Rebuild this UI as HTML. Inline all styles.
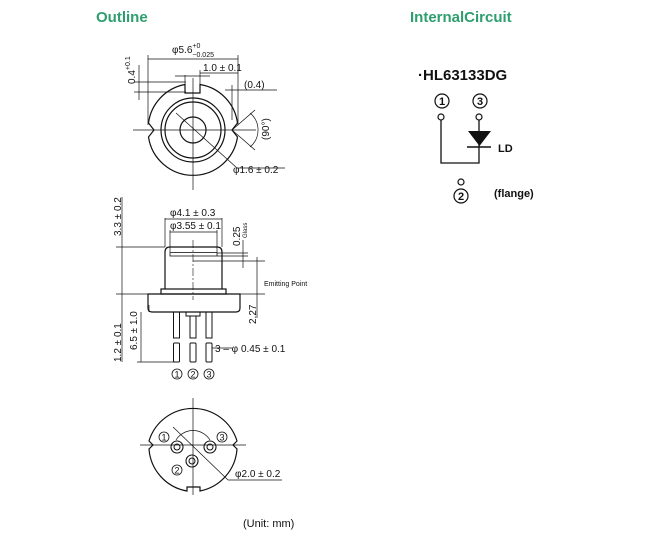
<!DOCTYPE html>
<html><head><style>
body{margin:0;background:#fff;width:669px;height:541px;overflow:hidden}
svg{display:block}
text{font-family:"Liberation Sans",Arial,sans-serif;fill:#111}
</style></head><body>
<svg width="669" height="541" viewBox="0 0 669 541" xmlns="http://www.w3.org/2000/svg">
<g font-weight="bold" font-size="15" style="fill:#2e9e6e">
<text x="96" y="22" style="fill:#2e9e6e">Outline</text>
<text x="410" y="22" style="fill:#2e9e6e">InternalCircuit</text>
</g>
<g stroke="#111" fill="none" stroke-width="1">
<!-- top view -->
<path d="M185,84.5 A45,45 0 0 0 148.5,123 L154,130 L148.5,137 A45,45 0 0 0 237.5,137 L232,130 L237.5,123 A45,45 0 0 0 200,84.5 L200,93 L185,93 Z" stroke-width="1.2"/>
<circle cx="193" cy="130" r="32" stroke-width="1.2"/>
<circle cx="193" cy="130" r="28" stroke-width="1.2"/>
<circle cx="193" cy="130" r="13" stroke-width="1.2"/>
<line x1="133" y1="130" x2="256" y2="130" stroke-width="0.7"/>
<line x1="193" y1="78" x2="193" y2="190" stroke-width="0.7"/>
<line x1="176" y1="113" x2="237" y2="168" stroke-width="0.7"/>
<line x1="237" y1="168" x2="285" y2="168" stroke-width="0.7"/>
<line x1="148" y1="55" x2="148" y2="125" stroke-width="0.7"/>
<line x1="238" y1="55" x2="238" y2="125" stroke-width="0.7"/>
<line x1="148" y1="59" x2="238" y2="59" stroke-width="0.7"/>
<line x1="200" y1="73" x2="238" y2="73" stroke-width="0.7"/>
<line x1="185" y1="75" x2="185" y2="86" stroke-width="0.7"/>
<line x1="200" y1="70" x2="200" y2="86" stroke-width="0.7"/>
<line x1="175" y1="76" x2="210" y2="76" stroke-width="0.7"/>
<line x1="134" y1="82" x2="186" y2="82" stroke-width="0.7"/>
<line x1="134" y1="92" x2="186" y2="92" stroke-width="0.7"/>
<line x1="139" y1="65" x2="139" y2="100" stroke-width="0.7"/>
<line x1="225" y1="90" x2="277" y2="90" stroke-width="0.7"/>
<line x1="232" y1="85" x2="232" y2="120" stroke-width="0.7"/>
<line x1="232" y1="130" x2="255" y2="110" stroke-width="0.7"/>
<line x1="232" y1="130" x2="255" y2="150" stroke-width="0.7"/>
<path d="M250,113 A22,22 0 0 1 250,147" stroke-width="0.7"/>
<!-- side view -->
<path d="M165,289 L165,252 Q165,247 170,247 L217,247 Q222,247 222,252 L222,289" stroke-width="1.2"/>
<rect x="170" y="252.5" width="47" height="3.5" stroke-width="0.8"/>
<rect x="161" y="289" width="65" height="5" stroke-width="1.2"/>
<path d="M148,294 L240,294 L240,308 Q240,312 236,312 L152,312 Q148,312 148,308 Z" stroke-width="1.2"/>
<rect x="173.5" y="312" width="6" height="26" stroke-width="1"/>
<rect x="190" y="316" width="6" height="22" stroke-width="1"/>
<rect x="186" y="312" width="14" height="4" stroke-width="1"/>
<rect x="206" y="312" width="6" height="26" stroke-width="1"/>
<rect x="173.5" y="343" width="6" height="19" rx="1" stroke-width="1"/>
<rect x="190" y="343" width="6" height="19" rx="1" stroke-width="1"/>
<rect x="206" y="343" width="6" height="19" rx="1" stroke-width="1"/>
<line x1="193" y1="240" x2="193" y2="300" stroke-width="0.6" stroke-dasharray="8,2,2,2"/>
<line x1="122" y1="197" x2="122" y2="362" stroke-width="0.7"/>
<line x1="116" y1="247" x2="165" y2="247" stroke-width="0.7"/>
<line x1="116" y1="294" x2="148" y2="294" stroke-width="0.7"/>
<line x1="141" y1="312" x2="141" y2="362" stroke-width="0.7"/>
<line x1="137" y1="362" x2="176" y2="362" stroke-width="0.7"/>
<line x1="149" y1="305" x2="149" y2="312" stroke-width="0.7"/>
<line x1="165" y1="218" x2="165" y2="247" stroke-width="0.7"/>
<line x1="222" y1="218" x2="222" y2="247" stroke-width="0.7"/>
<line x1="165" y1="219" x2="222" y2="219" stroke-width="0.7"/>
<line x1="170" y1="230" x2="170" y2="252" stroke-width="0.7"/>
<line x1="217" y1="230" x2="217" y2="252" stroke-width="0.7"/>
<line x1="170" y1="232" x2="217" y2="232" stroke-width="0.7"/>
<line x1="217" y1="253" x2="248" y2="253" stroke-width="0.7"/>
<line x1="217" y1="256" x2="248" y2="256" stroke-width="0.7"/>
<line x1="243" y1="240" x2="243" y2="268" stroke-width="0.7"/>
<line x1="193" y1="261" x2="265" y2="261" stroke-width="0.7"/>
<line x1="240" y1="294" x2="265" y2="294" stroke-width="0.7"/>
<line x1="257" y1="257" x2="257" y2="318" stroke-width="0.7"/>
<line x1="212" y1="348" x2="232" y2="348" stroke-width="0.7"/>
<!-- bottom view -->
<path d="M187,491 A46,46 0 0 1 149,449 L153,445 L149,441 A46,46 0 0 1 237,441 L233,445 L237,449 A46,46 0 0 1 200,491 L200,487 L187,487 Z" stroke-width="1.2"/>
<path d="M176,440 A20,20 0 0 1 210,440" stroke-width="0.7"/>
<line x1="140" y1="445" x2="246" y2="445" stroke-width="0.7"/>
<line x1="193" y1="398" x2="193" y2="495" stroke-width="0.7"/>
<line x1="173" y1="427" x2="228" y2="480" stroke-width="0.7"/>
<line x1="228" y1="480" x2="282" y2="480" stroke-width="0.7"/>
<circle cx="177" cy="447" r="6" stroke-width="1.1"/><circle cx="177" cy="447" r="3" stroke-width="1"/>
<circle cx="210" cy="447" r="6" stroke-width="1.1"/><circle cx="210" cy="447" r="3" stroke-width="1"/>
<circle cx="192" cy="461" r="6" stroke-width="1.1"/><circle cx="192" cy="461" r="3" stroke-width="1"/>
<!-- circuit -->
<circle cx="441" cy="117" r="3" stroke-width="1.2"/>
<circle cx="479" cy="117" r="3" stroke-width="1.2"/>
<path d="M441,120 L441,163 L479,163 L479,120" stroke-width="1.3"/>
<line x1="467" y1="147" x2="491" y2="147" stroke-width="1.5"/>
<circle cx="461" cy="182" r="3" stroke-width="1.2"/>
<circle cx="442" cy="101" r="7" stroke-width="1.2"/>
<circle cx="480" cy="101" r="7" stroke-width="1.2"/>
<circle cx="461" cy="196" r="7" stroke-width="1.2"/>
</g>
<polygon points="468,131 491,131 479.5,146" fill="#111"/>
<g font-size="10">
<text x="172" y="53">φ5.6<tspan font-size="7" dy="-5">+0</tspan><tspan font-size="7" dx="-8" dy="9">−0.025</tspan></text>
<text x="203" y="71">1.0 ± 0.1</text>
<text x="244" y="88">(0.4)</text>
<text transform="translate(269,140) rotate(-90)">(90°)</text>
<text x="233" y="173">φ1.6 ± 0.2</text>
<text transform="translate(135,84) rotate(-90)">0.4<tspan font-size="7" dy="-5">+0.1</tspan></text>
<text x="170" y="216">φ4.1 ± 0.3</text>
<text x="170" y="229">φ3.55 ± 0.1</text>
<text transform="translate(240,246) rotate(-90)">0.25</text>
<text font-size="6" transform="translate(247,238) rotate(-90)">Glass</text>
<text font-size="7" x="264" y="286">Emitting Point</text>
<text transform="translate(256,324) rotate(-90)">2.27</text>
<text transform="translate(121,236) rotate(-90)">3.3 ± 0.2</text>
<text transform="translate(121,362) rotate(-90)">1.2 ± 0.1</text>
<text transform="translate(137,350) rotate(-90)">6.5 ± 1.0</text>
<text x="215" y="352">3 – φ 0.45 ± 0.1</text>
<text x="235" y="477">φ2.0 ± 0.2</text>
<text x="243" y="527" font-size="11">(Unit: mm)</text>
</g>
<g font-size="9" text-anchor="middle">
<circle cx="177" cy="374" r="5" fill="none" stroke="#111" stroke-width="0.8"/><text x="177" y="377.5">1</text>
<circle cx="193" cy="374" r="5" fill="none" stroke="#111" stroke-width="0.8"/><text x="193" y="377.5">2</text>
<circle cx="209" cy="374" r="5" fill="none" stroke="#111" stroke-width="0.8"/><text x="209" y="377.5">3</text>
<circle cx="164" cy="437" r="5" fill="none" stroke="#111" stroke-width="0.8"/><text x="164" y="440.5">1</text>
<circle cx="222" cy="437" r="5" fill="none" stroke="#111" stroke-width="0.8"/><text x="222" y="440.5">3</text>
<circle cx="177" cy="470" r="5" fill="none" stroke="#111" stroke-width="0.8"/><text x="177" y="473.5">2</text>
</g>
<g font-weight="bold" text-anchor="middle" font-size="11">
<text x="442" y="105">1</text><text x="480" y="105">3</text><text x="461" y="200">2</text>
</g>
<text x="418" y="80" font-size="15" font-weight="bold">·HL63133DG</text>
<text x="498" y="152" font-size="11" font-weight="bold">LD</text>
<text x="494" y="197" font-size="11" font-weight="bold">(flange)</text>
</svg>
</body></html>
